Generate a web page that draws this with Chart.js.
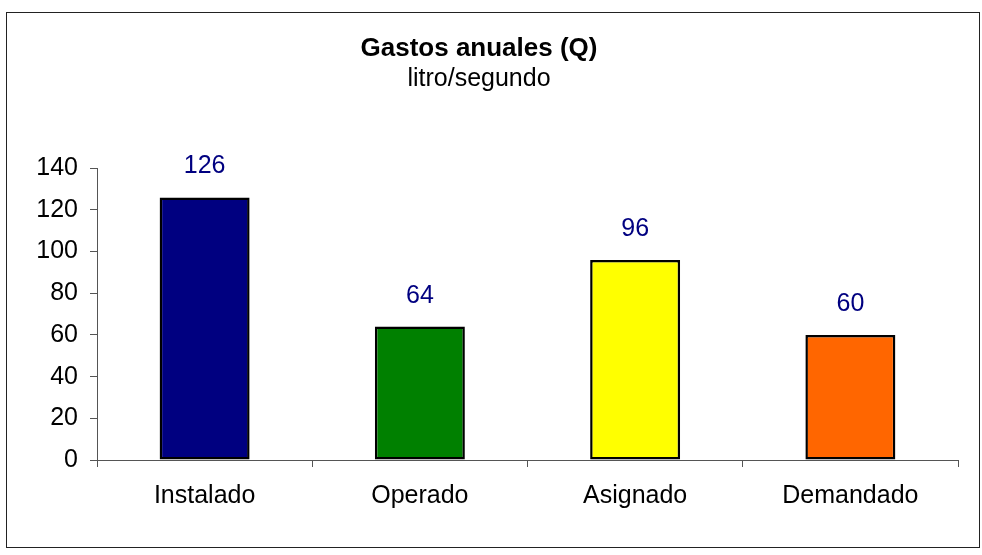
<!DOCTYPE html>
<html>
<head>
<meta charset="utf-8">
<script src="https://cdn.jsdelivr.net/npm/chart.js@4"></script>
<style>
  html, body { margin: 0; padding: 0; background: #fff; }
  #wrap { width: 982px; height: 555px; }
</style>
</head>
<body>
<div id="wrap"><canvas id="gastosChart" width="982" height="555"></canvas></div>
<script>
const categories = ['Instalado', 'Operado', 'Asignado', 'Demandado'];
const gastos = [126, 64, 96, 60];
const barColors = ['#000080', '#008000', '#FFFF00', '#FF6600'];
const yTicks = [0, 20, 40, 60, 80, 100, 120, 140];

const fontFamily = '"Liberation Sans", Arial, sans-serif';

// outer frame of the chart
const frame = {
  id: 'frame',
  beforeDraw(chart) {
    const ctx = chart.ctx;
    ctx.save();
    ctx.fillStyle = '#fff';
    ctx.fillRect(0, 0, chart.width, chart.height);
    ctx.strokeStyle = '#222';
    ctx.lineWidth = 1;
    ctx.strokeRect(6.5, 12.5, 973, 535);
    ctx.restore();
  }
};

// value labels above bars
const valueLabels = {
  id: 'valueLabels',
  afterDatasetsDraw(chart) {
    const ctx = chart.ctx;
    ctx.save();
    ctx.font = '25px ' + fontFamily;
    ctx.fillStyle = '#000080';
    ctx.textAlign = 'center';
    ctx.textBaseline = 'alphabetic';
    chart.getDatasetMeta(0).data.forEach((bar, i) => {
      ctx.fillText(gastos[i], bar.x, bar.y - 24);
    });
    ctx.restore();
  }
};

new Chart(document.getElementById('gastosChart'), {
  type: 'bar',
  data: {
    labels: categories,
    datasets: [{
      data: gastos,
      backgroundColor: barColors,
      borderColor: '#000',
      borderWidth: 2.5,
      borderSkipped: false,
      barPercentage: 0.418,
      categoryPercentage: 1
    }]
  },
  options: {
    responsive: false,
    animation: false,
    layout: { padding: { top: 12, left: 0, right: 24, bottom: 0 } },
    plugins: {
      legend: { display: false },
      tooltip: { enabled: false },
      title: {
        display: true,
        text: 'Gastos anuales (Q)',
        color: '#000',
        font: { family: fontFamily, size: 26, weight: 'bold' },
        padding: { top: 21, bottom: 0 }
      },
      subtitle: {
        display: true,
        text: 'litro/segundo',
        color: '#000',
        font: { family: fontFamily, size: 25 },
        padding: { top: 0, bottom: 74 }
      }
    },
    scales: {
      x: {
        afterFit(s) { s.height = 95; },
        grid: { drawOnChartArea: false, tickLength: 7, color: '#555', offset: true },
        border: { color: '#555', width: 1 },
        ticks: { color: '#000', padding: 14, font: { family: fontFamily, size: 25 } }
      },
      y: {
        min: 0,
        max: 140,
        afterFit(s) { s.width = 97; },
        afterBuildTicks(s) { s.ticks = yTicks.map(v => ({ value: v })); },
        grid: { drawOnChartArea: false, tickLength: 7, color: '#555' },
        border: { color: '#555', width: 1 },
        ticks: { color: '#000', padding: 12, font: { family: fontFamily, size: 25 } }
      }
    }
  },
  plugins: [frame, valueLabels]
});
</script>
</body>
</html>
